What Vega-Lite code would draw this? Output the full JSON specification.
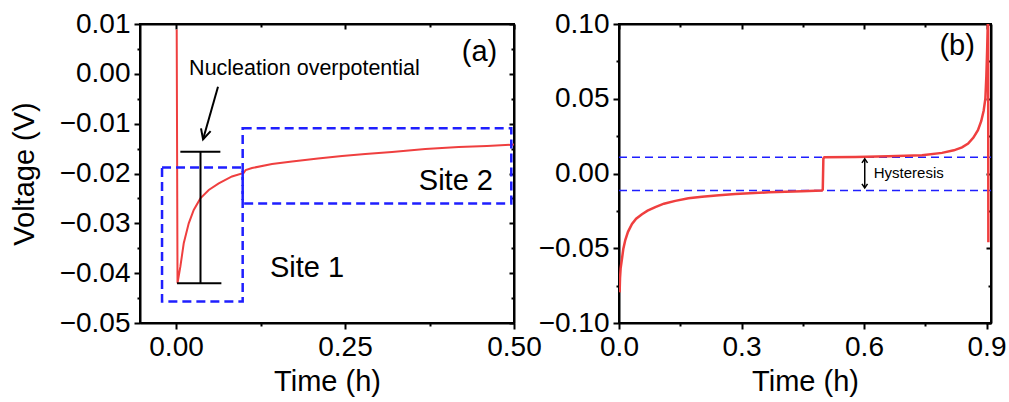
{
  "$schema": "https://vega.github.io/schema/vega-lite/v6.json",
  "padding": {"left": 9, "top": 9, "right": 0, "bottom": 0},
  "spacing": 105,
  "bounds": "flush",
  "config": {
    "font": "Liberation Sans",
    "view": {"stroke": "black", "strokeWidth": 2},
    "axis": {
      "labelFont": "Liberation Sans", "titleFont": "Liberation Sans",
      "labelFontSize": 28, "titleFontSize": 29, "titleFontWeight": "normal",
      "labelColor": "black", "titleColor": "black",
      "domainColor": "black", "domainWidth": 2,
      "tickColor": "black", "tickWidth": 2, "tickSize": 6,
      "grid": false, "labelFlush": false, "labelOverlap": false, "labelPadding": 4
    },
    "text": {"font": "Liberation Sans", "color": "black"}
  },
  "datasets": {
    "curveA": [
      {"t": 0.0010, "v": 0.0089}, {"t": 0.0022, "v": -0.0420}, {"t": 0.0064, "v": -0.0387},
      {"t": 0.0114, "v": -0.0340}, {"t": 0.0188, "v": -0.0300}, {"t": 0.0262, "v": -0.0273},
      {"t": 0.0360, "v": -0.0250}, {"t": 0.0484, "v": -0.0233}, {"t": 0.0632, "v": -0.0220},
      {"t": 0.0828, "v": -0.0206}, {"t": 0.1001, "v": -0.0199}, {"t": 0.1030, "v": -0.0193},
      {"t": 0.1124, "v": -0.0189}, {"t": 0.1420, "v": -0.0181}, {"t": 0.1716, "v": -0.0176},
      {"t": 0.2100, "v": -0.0170}, {"t": 0.2456, "v": -0.0165}, {"t": 0.2800, "v": -0.0161},
      {"t": 0.3195, "v": -0.0157}, {"t": 0.3688, "v": -0.0151}, {"t": 0.4182, "v": -0.0147},
      {"t": 0.4600, "v": -0.0145}, {"t": 0.5000, "v": -0.0142}
    ],
    "boxesA": [
      {"name": "Site 1", "x1": -0.0207, "x2": 0.0986, "y1": -0.0188, "y2": -0.0457},
      {"name": "Site 2", "x1": 0.0986, "x2": 0.4960, "y1": -0.0109, "y2": -0.0260}
    ],
    "segmentsA": [
      {"part": "bar", "x1": 0.0362, "y1": -0.01563, "x2": 0.0362, "y2": -0.0420},
      {"part": "top cap", "x1": 0.0064, "y1": -0.01563, "x2": 0.0656, "y2": -0.01563},
      {"part": "bottom cap", "x1": 0.0015, "y1": -0.0420, "x2": 0.0671, "y2": -0.0420},
      {"part": "arrow", "x1": 0.0621, "y1": -0.00258, "x2": 0.0400, "y2": -0.01314}
    ],
    "arrowHeadA": [{"x": 0.0400, "y": -0.01314}],
    "noteA": [{"x": 0.190, "y": -0.00024, "label": "Nucleation overpotential"}],
    "labelsA": [
      {"x": 0.1938, "y": -0.0407, "label": "Site 1"},
      {"x": 0.414, "y": -0.0233, "label": "Site 2"},
      {"x": 0.449, "y": 0.0026, "label": "(a)"}
    ],
    "curveB": [
      {"t": 0.0015, "v": -0.0795}, {"t": 0.0025, "v": -0.0700}, {"t": 0.0040, "v": -0.0635},
      {"t": 0.0073, "v": -0.0570}, {"t": 0.0105, "v": -0.0505}, {"t": 0.0154, "v": -0.0445},
      {"t": 0.0220, "v": -0.0390}, {"t": 0.0318, "v": -0.0338}, {"t": 0.0420, "v": -0.0302},
      {"t": 0.0563, "v": -0.0272}, {"t": 0.0700, "v": -0.0248}, {"t": 0.0889, "v": -0.0225},
      {"t": 0.1100, "v": -0.0202}, {"t": 0.1379, "v": -0.0183}, {"t": 0.1700, "v": -0.0166},
      {"t": 0.2033, "v": -0.0155}, {"t": 0.2450, "v": -0.0145}, {"t": 0.2848, "v": -0.0137},
      {"t": 0.3666, "v": -0.0126}, {"t": 0.4482, "v": -0.0119}, {"t": 0.4972, "v": -0.0114},
      {"t": 0.4990, "v": -0.0108}, {"t": 0.5005, "v": 0.0100}, {"t": 0.5030, "v": 0.0108},
      {"t": 0.5788, "v": 0.0111}, {"t": 0.6600, "v": 0.0115}, {"t": 0.7420, "v": 0.0122},
      {"t": 0.7910, "v": 0.0138}, {"t": 0.8200, "v": 0.0155}, {"t": 0.8400, "v": 0.0175},
      {"t": 0.8550, "v": 0.0200}, {"t": 0.8680, "v": 0.0240}, {"t": 0.8790, "v": 0.0290},
      {"t": 0.8870, "v": 0.0350}, {"t": 0.8930, "v": 0.0420}, {"t": 0.8972, "v": 0.0500},
      {"t": 0.8996, "v": 0.0650}, {"t": 0.9015, "v": 0.0820}, {"t": 0.9030, "v": 0.0989},
      {"t": 0.9040, "v": 0.1100}, {"t": 0.9045, "v": -0.0460}
    ],
    "levelsB": [{"v": 0.0109}, {"v": -0.0114}],
    "hystB": [{"x": 0.6018, "y1": 0.0098, "y2": -0.0096}],
    "hystTopB": [{"x": 0.6018, "y": 0.0098}],
    "hystBotB": [{"x": 0.6018, "y": -0.0096}],
    "hystTextB": [{"x": 0.6238, "y": -0.0031, "label": "Hysteresis"}],
    "labelB": [{"x": 0.828, "y": 0.0790, "label": "(b)"}]
  },
  "hconcat": [
    {
      "width": 374,
      "height": 299,
      "resolve": {"axis": {"x": "independent", "y": "independent"}},
      "layer": [
        {
          "data": {"name": "curveA"},
          "mark": {"type": "line", "color": "#ef3f3f", "strokeWidth": 2, "clip": true},
          "encoding": {
            "x": {
              "field": "t", "type": "quantitative",
              "scale": {"domain": [-0.0533, 0.5], "nice": false, "zero": false},
              "axis": {
                "title": "Time (h)", "titlePadding": 6,
                "values": [0, 0.125, 0.25, 0.375, 0.5],
                "labelExpr": "abs(datum.value*4-round(datum.value*4))<1e-6 ? format(datum.value,'.2f') : ''",
                "tickDash": {"condition": {"test": "abs(datum.value*4-round(datum.value*4))<1e-6", "value": [20, 0]}, "value": [3, 20]}
              }
            },
            "y": {
              "field": "v", "type": "quantitative",
              "scale": {"domain": [-0.05, 0.01], "nice": false, "zero": false},
              "axis": {
                "title": "Voltage (V)", "titlePadding": 20,
                "values": [-0.05, -0.045, -0.04, -0.035, -0.03, -0.025, -0.02, -0.015, -0.01, -0.005, 0, 0.005, 0.01],
                "labelExpr": "abs(datum.value*100-round(datum.value*100))<1e-6 ? format(datum.value,'.2f') : ''",
                "tickDash": {"condition": {"test": "abs(datum.value*100-round(datum.value*100))<1e-6", "value": [20, 0]}, "value": [3, 20]}
              }
            }
          }
        },
        {
          "data": {"name": "boxesA"},
          "mark": {"type": "rect", "fillOpacity": 0, "stroke": "#1f1fff", "strokeWidth": 2.5, "strokeDash": [9, 5]},
          "encoding": {
            "x": {
              "field": "x1", "type": "quantitative",
              "scale": {"domain": [-0.0533, 0.5], "nice": false, "zero": false},
              "axis": {
                "orient": "top", "labels": false, "title": null, "tickSize": -5,
                "values": [0, 0.125, 0.25, 0.375, 0.5],
                "tickDash": {"condition": {"test": "abs(datum.value*4-round(datum.value*4))<1e-6", "value": [20, 0]}, "value": [3, 20]}
              }
            },
            "x2": {"field": "x2"},
            "y": {
              "field": "y1", "type": "quantitative",
              "scale": {"domain": [-0.05, 0.01], "nice": false, "zero": false},
              "axis": {
                "orient": "right", "labels": false, "title": null, "tickSize": -5,
                "values": [-0.05, -0.045, -0.04, -0.035, -0.03, -0.025, -0.02, -0.015, -0.01, -0.005, 0, 0.005, 0.01],
                "tickDash": {"condition": {"test": "abs(datum.value*100-round(datum.value*100))<1e-6", "value": [20, 0]}, "value": [3, 20]}
              }
            },
            "y2": {"field": "y2"}
          }
        },
        {
          "data": {"name": "segmentsA"},
          "mark": {"type": "rule", "color": "black", "strokeWidth": 2},
          "encoding": {
            "x": {"field": "x1", "type": "quantitative", "axis": null},
            "x2": {"field": "x2"},
            "y": {"field": "y1", "type": "quantitative", "axis": null},
            "y2": {"field": "y2"}
          }
        },
        {
          "data": {"name": "arrowHeadA"},
          "mark": {"type": "point", "shape": "M -0.5 -1 L 0 0 L 0.5 -1", "filled": false, "stroke": "black", "strokeWidth": 2, "size": 400, "angle": 16, "opacity": 1},
          "encoding": {
            "x": {"field": "x", "type": "quantitative", "axis": null},
            "y": {"field": "y", "type": "quantitative", "axis": null}
          }
        },
        {
          "data": {"name": "noteA"},
          "mark": {"type": "text", "fontSize": 21.5, "align": "center", "baseline": "alphabetic", "color": "black"},
          "encoding": {
            "x": {"field": "x", "type": "quantitative", "axis": null},
            "y": {"field": "y", "type": "quantitative", "axis": null},
            "text": {"field": "label"}
          }
        },
        {
          "data": {"name": "labelsA"},
          "mark": {"type": "text", "fontSize": 29, "align": "center", "baseline": "alphabetic", "color": "black"},
          "encoding": {
            "x": {"field": "x", "type": "quantitative", "axis": null},
            "y": {"field": "y", "type": "quantitative", "axis": null},
            "text": {"field": "label"}
          }
        }
      ]
    },
    {
      "width": 372,
      "height": 299,
      "resolve": {"axis": {"x": "independent", "y": "independent"}},
      "layer": [
        {
          "data": {"name": "levelsB"},
          "mark": {"type": "rule", "color": "#1f1fff", "strokeWidth": 1.5, "strokeDash": [8, 5]},
          "encoding": {
            "y": {
              "field": "v", "type": "quantitative",
              "scale": {"domain": [-0.1, 0.1], "nice": false, "zero": false},
              "axis": {
                "orient": "right", "labels": false, "title": null, "tickSize": -5,
                "values": [-0.1, -0.075, -0.05, -0.025, 0, 0.025, 0.05, 0.075, 0.1],
                "tickDash": {"condition": {"test": "abs(datum.value*20-round(datum.value*20))<1e-6", "value": [20, 0]}, "value": [3, 20]}
              }
            }
          }
        },
        {
          "data": {"name": "curveB"},
          "mark": {"type": "line", "color": "#ef3f3f", "strokeWidth": 2.5, "clip": true},
          "encoding": {
            "x": {
              "field": "t", "type": "quantitative",
              "scale": {"domain": [0, 0.911], "nice": false, "zero": false},
              "axis": {
                "title": "Time (h)", "titlePadding": 6,
                "values": [0, 0.15, 0.3, 0.45, 0.6, 0.75, 0.9],
                "labelExpr": "abs(datum.value/0.3-round(datum.value/0.3))<1e-6 ? format(datum.value,'.1f') : ''",
                "tickDash": {"condition": {"test": "abs(datum.value/0.3-round(datum.value/0.3))<1e-6", "value": [20, 0]}, "value": [3, 20]}
              }
            },
            "y": {
              "field": "v", "type": "quantitative",
              "scale": {"domain": [-0.1, 0.1], "nice": false, "zero": false},
              "axis": {
                "title": null,
                "values": [-0.1, -0.075, -0.05, -0.025, 0, 0.025, 0.05, 0.075, 0.1],
                "labelExpr": "abs(datum.value*20-round(datum.value*20))<1e-6 ? format(datum.value,'.2f') : ''",
                "tickDash": {"condition": {"test": "abs(datum.value*20-round(datum.value*20))<1e-6", "value": [20, 0]}, "value": [3, 20]}
              }
            }
          }
        },
        {
          "data": {"name": "hystB"},
          "mark": {"type": "rule", "color": "black", "strokeWidth": 1.5},
          "encoding": {
            "x": {
              "field": "x", "type": "quantitative",
              "axis": {
                "orient": "top", "labels": false, "title": null, "tickSize": -5,
                "values": [0, 0.15, 0.3, 0.45, 0.6, 0.75, 0.9],
                "tickDash": {"condition": {"test": "abs(datum.value/0.3-round(datum.value/0.3))<1e-6", "value": [20, 0]}, "value": [3, 20]}
              }
            },
            "y": {"field": "y1", "type": "quantitative", "axis": null},
            "y2": {"field": "y2"}
          }
        },
        {
          "data": {"name": "hystTopB"},
          "mark": {"type": "point", "shape": "M -0.7 1 L 0 0 L 0.7 1", "filled": false, "stroke": "black", "strokeWidth": 1.5, "size": 64, "opacity": 1},
          "encoding": {
            "x": {"field": "x", "type": "quantitative", "axis": null},
            "y": {"field": "y", "type": "quantitative", "axis": null}
          }
        },
        {
          "data": {"name": "hystBotB"},
          "mark": {"type": "point", "shape": "M -0.7 -1 L 0 0 L 0.7 -1", "filled": false, "stroke": "black", "strokeWidth": 1.5, "size": 64, "opacity": 1},
          "encoding": {
            "x": {"field": "x", "type": "quantitative", "axis": null},
            "y": {"field": "y", "type": "quantitative", "axis": null}
          }
        },
        {
          "data": {"name": "hystTextB"},
          "mark": {"type": "text", "fontSize": 15, "align": "left", "baseline": "alphabetic", "color": "black"},
          "encoding": {
            "x": {"field": "x", "type": "quantitative", "axis": null},
            "y": {"field": "y", "type": "quantitative", "axis": null},
            "text": {"field": "label"}
          }
        },
        {
          "data": {"name": "labelB"},
          "mark": {"type": "text", "fontSize": 29, "align": "center", "baseline": "alphabetic", "color": "black"},
          "encoding": {
            "x": {"field": "x", "type": "quantitative", "axis": null},
            "y": {"field": "y", "type": "quantitative", "axis": null},
            "text": {"field": "label"}
          }
        }
      ]
    }
  ]
}
